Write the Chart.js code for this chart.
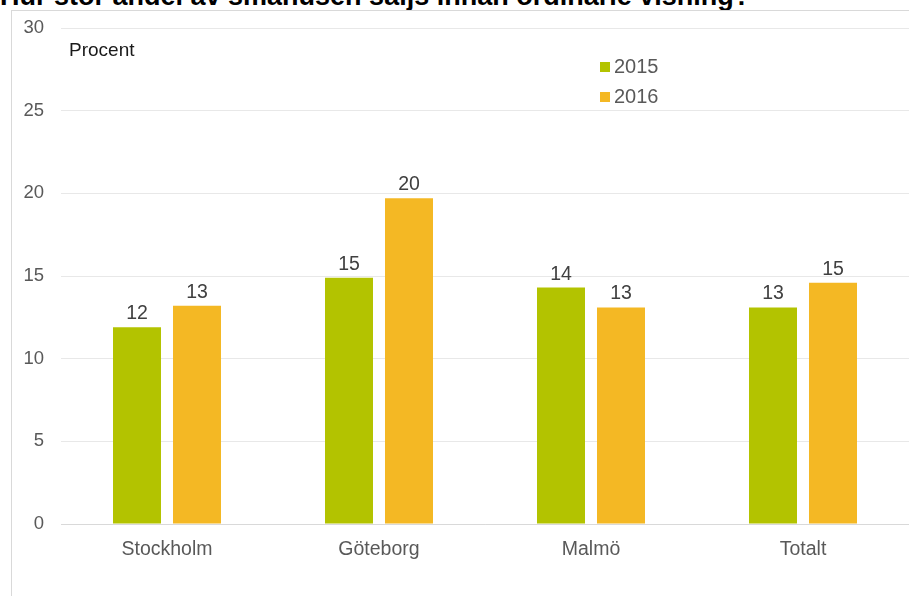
<!DOCTYPE html>
<html>
<head>
<meta charset="utf-8">
<script src="https://cdn.jsdelivr.net/npm/chart.js@4/dist/chart.umd.min.js"></script>
<style>
  html, body { margin: 0; padding: 0; background: #fff; overflow: hidden; }
  #wrap { position: relative; width: 909px; height: 596px; overflow: hidden; }
  #title { position: absolute; left: 0; top: -19px; font: bold 27px "Liberation Sans", Arial, sans-serif; line-height: 30px; color: #000; white-space: nowrap; }
  #frame { position: absolute; left: 11px; top: 10px; width: 920px; height: 620px; border: 1px solid #d9d9d9; box-sizing: border-box; }
  #c { position: absolute; left: 0; top: 0; }
</style>
</head>
<body>
<div id="wrap">
  <div id="title">Hur stor andel av småhusen säljs innan ordinarie visning?</div>
  <div id="frame"></div>
  <canvas id="c" width="909" height="596"></canvas>
</div>
<script>
const categories = ["Stockholm", "Göteborg", "Malmö", "Totalt"];
const seriesNames = ["2015", "2016"];
const values2015 = [11.9, 14.9, 14.3, 13.1];
const values2016 = [13.2, 19.7, 13.1, 14.6];
const yTicks = [0, 5, 10, 15, 20, 25, 30];
const unitLabel = "Procent";

const FONT = '"Liberation Sans", Arial, sans-serif';
const colors = ["#b3c300", "#f4b824"];

const labelPlugin = {
  id: 'labels',
  afterDatasetsDraw(chart) {
    const ctx = chart.ctx;
    ctx.save();
    ctx.font = '19.5px ' + FONT;
    ctx.fillStyle = '#404040';
    ctx.textAlign = 'center';
    ctx.textBaseline = 'alphabetic';
    chart.data.datasets.forEach((ds, di) => {
      chart.getDatasetMeta(di).data.forEach((bar, i) => {
        ctx.fillText(String(Math.round(ds.data[i])), bar.x, bar.y - 8);
      });
    });
    // unit label
    ctx.textAlign = 'left';
    ctx.textBaseline = 'middle';
    ctx.font = '19px ' + FONT;
    ctx.fillStyle = '#1a1a1a';
    ctx.fillText(unitLabel, 69, 51);
    // legend
    ctx.font = '20px ' + FONT;
    chart.data.datasets.forEach((ds, di) => {
      const y = 67 + di * 30;
      ctx.fillStyle = ds.backgroundColor;
      ctx.fillRect(600, y - 5, 10, 10);
      ctx.fillStyle = '#595959';
      ctx.fillText(ds.label, 614, y);
    });
    ctx.restore();
  }
};

new Chart(document.getElementById('c'), {
  type: 'bar',
  data: {
    labels: categories,
    datasets: [
      { label: seriesNames[0], data: values2015, backgroundColor: colors[0] },
      { label: seriesNames[1], data: values2016, backgroundColor: colors[1] }
    ]
  },
  options: {
    responsive: false,
    animation: false,
    devicePixelRatio: 1,
    layout: { padding: { top: 28, right: 0, left: 0, bottom: 0 } },
    datasets: { bar: { categoryPercentage: 0.566, barPercentage: 0.8 } },
    plugins: { legend: { display: false }, tooltip: { enabled: false }, title: { display: false } },
    scales: {
      x: {
        grid: { display: false, drawTicks: false },
        border: { display: true, color: '#d9d9d9' },
        ticks: { font: { family: FONT, size: 19.5 }, color: '#595959', padding: 14 },
        afterFit(s) { s.height = 72; }
      },
      y: {
        min: 0, max: 30,
        afterBuildTicks(s) { s.ticks = yTicks.map(v => ({ value: v })); },
        grid: { color: '#e8e8e8', drawTicks: false },
        border: { display: false },
        ticks: { font: { family: FONT, size: 18.5 }, color: '#595959', padding: 17 },
        afterFit(s) { s.width = 61; }
      }
    }
  },
  plugins: [labelPlugin]
});
</script>
</body>
</html>
